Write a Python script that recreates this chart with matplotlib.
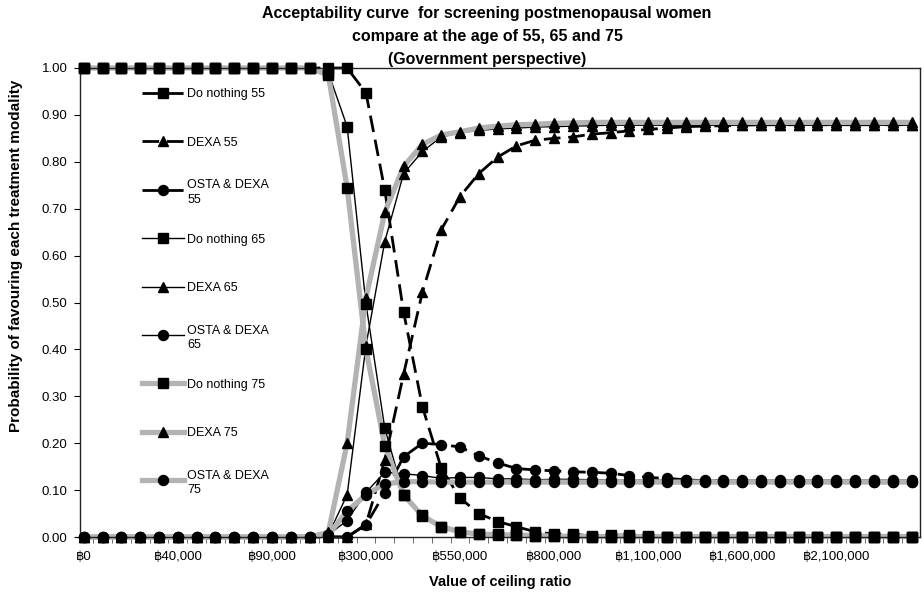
import numpy as np
import matplotlib.pyplot as plt
from matplotlib.ticker import FixedLocator, FormatStrFormatter

plt.rcParams['font.family'] = ['Liberation Sans', 'DejaVu Sans']

# ceiling ratio categories (baht)
ceiling = [0, 10000, 20000, 25000, 30000, 40000, 50000, 60000, 70000, 80000, 90000,
           100000, 150000, 200000, 250000, 300000, 350000, 400000, 450000, 500000, 550000,
           600000, 650000, 700000, 750000, 800000, 850000, 900000, 950000, 1000000, 1100000,
           1200000, 1300000, 1400000, 1500000, 1600000, 1700000, 1800000, 1900000, 2000000,
           2100000, 2200000, 2300000, 2400000, 2500000]

do55 = [1.0]*15 + [0.947, 0.74, 0.48, 0.278, 0.147, 0.083, 0.05, 0.033, 0.022, 0.011,
                   0.006, 0.006, 0.002, 0.004, 0.004, 0.002] + [0.0]*14
dexa55 = [0.0]*15 + [0.027, 0.164, 0.347, 0.522, 0.655, 0.726, 0.775, 0.81, 0.834, 0.846,
                     0.85, 0.853, 0.859, 0.862, 0.866, 0.869, 0.872, 0.875, 0.876, 0.877,
                     0.878] + [0.879]*9
osta55 = [0.0]*15 + [0.026, 0.094, 0.171, 0.20, 0.197, 0.192, 0.173, 0.158, 0.146, 0.143,
                     0.141, 0.139, 0.138, 0.136, 0.131, 0.127, 0.125, 0.122, 0.12,
                     0.119] + [0.118]*10

do65 = [1.0]*13 + [0.99, 0.875, 0.497, 0.232, 0.09, 0.047, 0.022, 0.011, 0.006, 0.006,
                   0.004, 0.003, 0.002, 0.002] + [0.001]*18
dexa65 = [0.0]*13 + [0.005, 0.09, 0.408, 0.63, 0.775, 0.822, 0.853, 0.862, 0.867, 0.870,
                     0.872, 0.874, 0.875, 0.876, 0.877] + [0.878]*17
osta65 = [0.0]*13 + [0.005, 0.035, 0.095, 0.138, 0.135, 0.131, 0.125, 0.127, 0.127, 0.124,
                     0.124, 0.122, 0.123, 0.123, 0.122] + [0.121]*17

do75 = [1.0]*13 + [0.985, 0.745, 0.40, 0.195, 0.09, 0.045, 0.022, 0.011, 0.006, 0.005,
                   0.004, 0.003, 0.002] + [0.001]*19
dexa75 = [0.0]*13 + [0.01, 0.20, 0.51, 0.692, 0.79, 0.837, 0.857, 0.864, 0.872, 0.876,
                     0.879, 0.88, 0.882, 0.883] + [0.884]*18
osta75 = [0.0]*13 + [0.005, 0.055, 0.09, 0.113, 0.118, 0.118] + [0.117]*26

series = [
    ("Do nothing 55", do55, 's', '55'),
    ("DEXA 55", dexa55, '^', '55'),
    ("OSTA & DEXA\n55", osta55, 'o', '55'),
    ("Do nothing 65", do65, 's', '65'),
    ("DEXA 65", dexa65, '^', '65'),
    ("OSTA & DEXA\n65", osta65, 'o', '65'),
    ("Do nothing 75", do75, 's', '75'),
    ("DEXA 75", dexa75, '^', '75'),
    ("OSTA & DEXA\n75", osta75, 'o', '75'),
]

styles = {
    '55': dict(color='black', lw=2.0, dashes=(6, 2.8)),
    '65': dict(color='black', lw=1.0, linestyle='-'),
    '75': dict(color='#b3b3b3', lw=3.8, linestyle='-'),
}
msize = {'s': 6.8, '^': 7.4, 'o': 7.2}

fig = plt.figure(figsize=(9.24, 5.97), dpi=100)
ax = fig.add_axes([80/924, 1-537/597, 840/924, 469/597])

x = np.arange(len(ceiling))
for label, vals, mk, age in series:
    ax.plot(x, vals, zorder=2, clip_on=False, **styles[age])
for label, vals, mk, age in series:
    ax.plot(x, vals, linestyle='none', marker=mk, ms=msize[mk], color='black',
            zorder=3, clip_on=False)

# legend drawn like excel: evenly spaced, handle level with first text line
lx0, lx1, ltx = 0.0738, 0.1238, 0.1274
ly, lstep = 0.9467, 0.1032
for k, (label, vals, mk, age) in enumerate(series):
    yy = ly - k * lstep
    ax.plot([lx0, lx1], [yy, yy], transform=ax.transAxes, clip_on=False, zorder=4,
            **styles[age])
    ax.plot([(lx0 + lx1) / 2], [yy], transform=ax.transAxes, linestyle='none',
            marker=mk, ms=msize[mk], color='black', clip_on=False, zorder=5)
    ax.text(ltx, yy, label, transform=ax.transAxes, fontsize=9, va='center_baseline',
            ha='left', linespacing=1.25)

ax.set_xlim(-0.2, len(ceiling) - 0.55)
ax.set_ylim(0, 1)
ax.set_yticks(np.arange(0, 1.01, 0.1))
ax.yaxis.set_major_formatter(FormatStrFormatter('%.2f'))

major = list(range(0, len(ceiling), 5))
ax.set_xticks(major)
ax.set_xticklabels(['\u0e3f{:,}'.format(ceiling[i]) for i in major])
ax.xaxis.set_minor_locator(FixedLocator(np.arange(0.5, len(ceiling) - 0.5, 1)))
ax.tick_params(axis='x', which='major', length=0, pad=10, labelsize=9.5)
ax.tick_params(axis='x', which='minor', length=4, direction='out', color='#555555')
ax.tick_params(axis='y', length=4, direction='out', labelsize=9.5, pad=5)

for sp in ax.spines.values():
    sp.set_linewidth(1.0)
    sp.set_color('#222222')

ax.set_xlabel('Value of ceiling ratio', fontsize=10.5, fontweight='bold', labelpad=9)
ax.set_ylabel('Probability of favouring each treatment modality', fontsize=11,
              fontweight='bold')
ax.yaxis.set_label_coords(-0.068, 0.60)

fig.text(487/924, 1-6/597,
         'Acceptability curve  for screening postmenopausal women\n'
         'compare at the age of 55, 65 and 75\n(Government perspective)',
         ha='center', va='top', fontsize=11.5, fontweight='bold', linespacing=1.65)

fig.savefig('out.png', dpi=100)
